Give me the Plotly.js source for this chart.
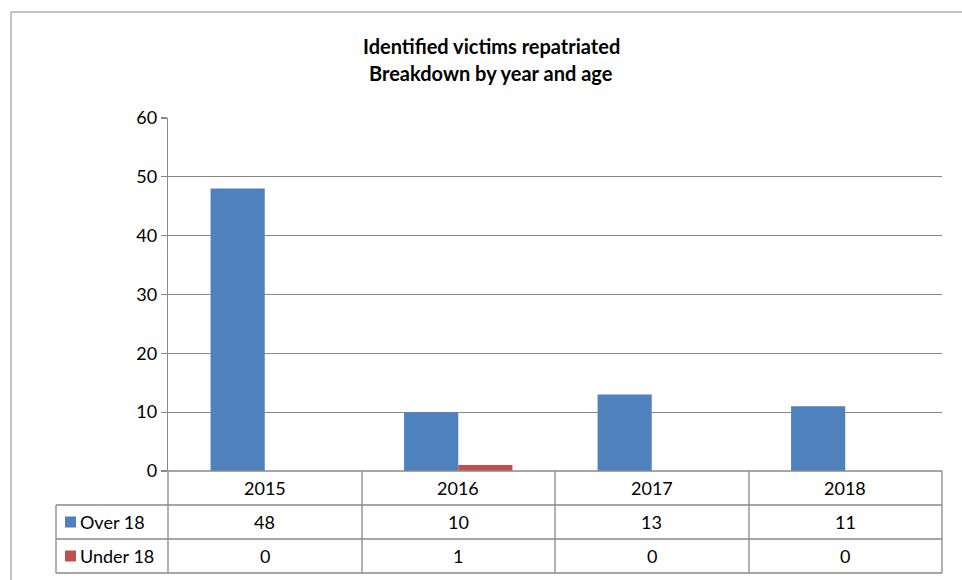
<!DOCTYPE html>
<html>
<head>
<meta charset="utf-8">
<script src="https://cdn.plot.ly/plotly-3.0.1.min.js"></script>
<style>html,body{margin:0;padding:0;background:#fff;}#chart{width:962px;height:580px;}</style>
</head>
<body>
<div id="chart"></div>
<script>
var years = ['2015', '2016', '2017', '2018'];
var over18 = [48, 10, 13, 11];
var under18 = [0, 1, 0, 0];
var seriesNames = ['Over 18', 'Under 18'];
var titleLines = ['Identified victims repatriated', 'Breakdown by year and age'];

var BLUE = '#4F81BD', RED = '#C0504D', GRID = '#888888';
var FONT = 'Lato, "Open Sans", sans-serif';

// pixel helpers (plot area: x 168..942, y 118..471)
var L = 168, R = 942, T = 118, B = 471;
function px(x) { return (x - L) / (R - L); }
function py(y) { return (B - y) / (B - T); }

var traces = [
  {type: 'bar', x: years, y: over18, name: seriesNames[0], marker: {color: BLUE}},
  {type: 'bar', x: years, y: under18, name: seriesNames[1], marker: {color: RED}}
];

var shapes = [];
var annotations = [];
function hline(x0, x1, y) {
  shapes.push({type: 'line', xref: 'paper', yref: 'paper', x0: px(x0), x1: px(x1), y0: py(y), y1: py(y), line: {color: GRID, width: 1.3}});
}
function vline(x, y0, y1) {
  shapes.push({type: 'line', xref: 'paper', yref: 'paper', x0: px(x), x1: px(x), y0: py(y0), y1: py(y1), line: {color: GRID, width: 1.3}});
}
// outer chart border
shapes.push({type: 'rect', xref: 'paper', yref: 'paper', x0: px(11), x1: px(1000), y0: py(12), y1: py(700), line: {color: GRID, width: 1}});
// table
hline(L, R, 471);
hline(56, R, 505);
hline(56, R, 539);
hline(56, R, 573);
vline(56, 505, 573);
var colEdges = [168, 362, 555, 749, 942];
colEdges.forEach(function (x) { vline(x, 471, 573); });

// category labels and values (category axis: annotations use serial index)
var rowsY = [522, 556];
var series = [over18, under18];
var colors = [BLUE, RED];
years.forEach(function (yr, i) {
  annotations.push({xref: 'x', yref: 'paper', x: i, y: py(488), text: yr, showarrow: false, font: {family: FONT, size: 18, color: '#000'}, yanchor: 'middle'});
  series.forEach(function (s, j) {
    annotations.push({xref: 'x', yref: 'paper', x: i, y: py(rowsY[j]), text: String(s[i]), showarrow: false, font: {family: FONT, size: 18, color: '#000'}, yanchor: 'middle'});
  });
});
seriesNames.forEach(function (n, j) {
  shapes.push({type: 'rect', xref: 'paper', yref: 'paper', x0: px(65), x1: px(76), y0: py(rowsY[j] - 5.5), y1: py(rowsY[j] + 5.5), line: {width: 0}, fillcolor: colors[j]});
  annotations.push({xref: 'paper', yref: 'paper', x: px(78), y: py(rowsY[j]), text: n, showarrow: false, xanchor: 'left', yanchor: 'middle', font: {family: FONT, size: 18, color: '#000'}});
});
// title
annotations.push({xref: 'paper', yref: 'paper', x: px(491), y: py(46), text: '<b>' + titleLines[0] + '</b>', showarrow: false, yanchor: 'middle', font: {family: FONT, size: 20, color: '#000'}});
annotations.push({xref: 'paper', yref: 'paper', x: px(491), y: py(73), text: '<b>' + titleLines[1] + '</b>', showarrow: false, yanchor: 'middle', font: {family: FONT, size: 20, color: '#000'}});

var layout = {
  width: 962, height: 580,
  margin: {l: L, r: 962 - R, t: T, b: 580 - B, pad: 0},
  paper_bgcolor: '#fff', plot_bgcolor: '#fff',
  showlegend: false,
  barmode: 'group', bargap: 0.44, bargroupgap: 0,
  font: {family: FONT, size: 18, color: '#000'},
  xaxis: {type: 'category', range: [-0.5, 3.5], showticklabels: false, showgrid: false, zeroline: false, showline: false, ticks: '', fixedrange: true},
  yaxis: {range: [0, 60], dtick: 10, tick0: 0, showgrid: true, gridcolor: GRID, gridwidth: 1.3, zeroline: false,
          showline: true, linecolor: GRID, linewidth: 1.3, ticks: 'outside', ticklen: 6, tickcolor: GRID, tickwidth: 1.3,
          tickfont: {family: FONT, size: 18, color: '#000'}, fixedrange: true},
  shapes: shapes,
  annotations: annotations
};

Plotly.newPlot('chart', traces, layout, {displayModeBar: false, staticPlot: true});
</script>
</body>
</html>
